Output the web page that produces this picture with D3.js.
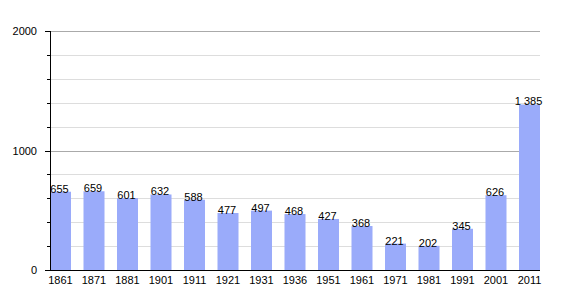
<!DOCTYPE html>
<html>
<head>
<meta charset="utf-8">
<script src="https://cdn.jsdelivr.net/npm/d3@7"></script>
<style>
  body { margin: 0; background: #fff; }
  text { font-family: "Liberation Sans", Arial, sans-serif; }
</style>
</head>
<body>
<script>
const years = ["1861", "1871", "1881", "1901", "1911", "1921", "1931", "1936", "1951", "1961", "1971", "1981", "1991", "2001", "2011"];
const population = [655, 659, 601, 632, 588, 477, 497, 468, 427, 368, 221, 202, 345, 626, 1385];
const majorTicks = [0, 1000, 2000];
const minorTicks = [200, 400, 600, 800, 1200, 1400, 1600, 1800];

const width = 570, height = 300;
const plotLeft = 50, plotRight = 540, plotTop = 31, plotBottom = 270;

const svg = d3.select("body").append("svg")
    .attr("width", width)
    .attr("height", height);

const x = d3.scaleBand()
    .domain(years)
    .range([plotLeft, plotRight])
    .paddingInner(0.373)
    .paddingOuter(0);

const y = d3.scaleLinear()
    .domain([0, 2000])
    .range([plotBottom, plotTop]);

const py = d => Math.round(y(d)) + 0.5;

// minor gridlines
svg.append("g")
    .attr("stroke", "#dddddd")
  .selectAll("line")
  .data(minorTicks)
  .join("line")
    .attr("x1", plotLeft).attr("x2", plotRight)
    .attr("y1", py).attr("y2", py);

// major gridlines
svg.append("g")
    .attr("stroke", "#aaaaaa")
  .selectAll("line")
  .data(majorTicks.filter(d => d > 0))
  .join("line")
    .attr("x1", plotLeft).attr("x2", plotRight)
    .attr("y1", py).attr("y2", py);

// bars
svg.append("g")
    .attr("fill", "#9aabfa")
  .selectAll("rect")
  .data(years)
  .join("rect")
    .attr("x", d => x(d))
    .attr("width", x.bandwidth())
    .attr("y", (d, i) => y(population[i]))
    .attr("height", (d, i) => y(0) - y(population[i]));

// value labels
svg.append("g")
    .attr("font-size", 11)
    .attr("text-anchor", "middle")
    .attr("fill", "#000")
  .selectAll("text")
  .data(years)
  .join("text")
    .attr("x", d => x(d) + x.bandwidth() / 2 - 1)
    .attr("y", (d, i) => y(population[i]) + 1)
    .text((d, i) => d3.format(",")(population[i]).replace(",", " "));

// y axis
const yAxis = svg.append("g");
yAxis.append("line")
    .attr("stroke", "#000")
    .attr("x1", plotLeft + 0.5).attr("x2", plotLeft + 0.5)
    .attr("y1", plotTop).attr("y2", plotBottom);
yAxis.selectAll(".minor")
  .data(minorTicks)
  .join("line")
    .attr("class", "minor")
    .attr("stroke", "#000")
    .attr("x1", plotLeft - 3).attr("x2", plotLeft)
    .attr("y1", py).attr("y2", py);
yAxis.selectAll(".major")
  .data(majorTicks)
  .join("line")
    .attr("class", "major")
    .attr("stroke", "#000")
    .attr("x1", plotLeft - 5).attr("x2", plotLeft)
    .attr("y1", py).attr("y2", py);
yAxis.selectAll("text")
  .data(majorTicks)
  .join("text")
    .attr("font-size", 11)
    .attr("text-anchor", "end")
    .attr("dominant-baseline", "central")
    .attr("x", plotLeft - 13)
    .attr("y", d => y(d))
    .text(d => d);

// x axis
svg.append("line")
    .attr("stroke", "#000")
    .attr("x1", plotLeft).attr("x2", plotRight)
    .attr("y1", plotBottom + 0.5).attr("y2", plotBottom + 0.5);
svg.append("g")
    .attr("font-size", 11)
    .attr("text-anchor", "middle")
  .selectAll("text")
  .data(years)
  .join("text")
    .attr("x", d => x(d) + x.bandwidth() / 2)
    .attr("y", plotBottom + 14)
    .text(d => d);
</script>
</body>
</html>
